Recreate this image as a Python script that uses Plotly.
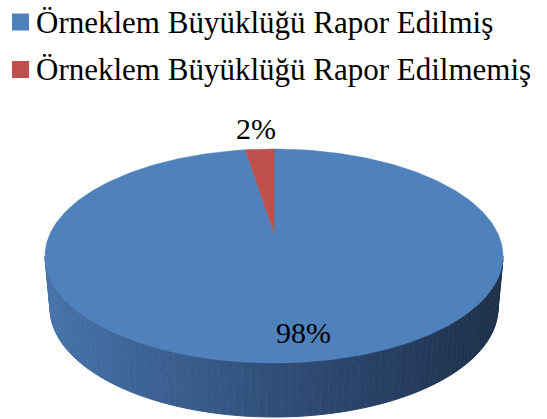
import numpy as np
import plotly.graph_objects as go

categories = ["Örneklem Büyüklüğü Rapor Edilmiş", "Örneklem Büyüklüğü Rapor Edilmemiş"]
values = [98, 2]
labels = ["98%", "2%"]
colors = ["#4F81BD", "#C0504D"]

W, H = 547, 419
# geometry of the 3-D pie (pixels)
CX, CY, RX, RY = 274, 256, 229, 107       # top ellipse
APEX_Y = 233                               # projected centre of the pie
CYB, RXB, RYB = 308, 224, 109              # bottom ellipse
SIDE_L = np.array([0x47, 0x73, 0xAA])
SIDE_M = np.array([0x31, 0x4F, 0x7A])
SIDE_R = np.array([0x1E, 0x30, 0x4A])
FONT = "Liberation Serif"
# legend layout (pixels)
LEG_SQ_X, LEG_TXT_X, LEG_Y0, LEG_DY, LEG_SQ = 20.5, 34, 22, 47.5, 17


def top_pt(th):
    return CX + RX * np.sin(th), CY - RY * np.cos(th)


def bot_pt(th):
    return CX + RXB * np.sin(th), CYB - RYB * np.cos(th)


fig = go.Figure()

# side wall (front half, 90..270 deg clockwise from 12 o'clock)
N = 90
edges = np.linspace(np.pi / 2, 3 * np.pi / 2, N + 1)
for a0, a1 in zip(edges[:-1], edges[1:]):
    th = np.linspace(a0, a1, 4)
    tx, ty = top_pt(th)
    bx, by = bot_pt(th[::-1])
    xm = float(np.mean(tx))
    t = 1 - (xm - (CX - RX)) / (2 * RX)  # 1 = left, 0 = right
    if t > 0.5:
        c = SIDE_M + (SIDE_L - SIDE_M) * (t - 0.5) * 2
    else:
        c = SIDE_R + (SIDE_M - SIDE_R) * t * 2
    col = "rgb(%d,%d,%d)" % tuple(c.astype(int))
    fig.add_trace(go.Scatter(
        x=np.concatenate([tx, bx]).tolist(), y=np.concatenate([ty, by]).tolist(),
        fill="toself", fillcolor=col, mode="lines",
        line=dict(color=col, width=1), hoverinfo="skip", showlegend=False))

# top face slices
total = float(sum(values))
start = 0.0
mids = []
for v, col in zip(values, colors):
    a0 = start / total * 2 * np.pi
    a1 = (start + v) / total * 2 * np.pi
    th = np.linspace(a0, a1, max(4, int(v * 4)))
    ex, ey = top_pt(th)
    xs = np.concatenate([[CX], ex, [CX]])
    ys = np.concatenate([[APEX_Y], ey, [APEX_Y]])
    fig.add_trace(go.Scatter(
        x=xs.tolist(), y=ys.tolist(), fill="toself", fillcolor=col, mode="lines",
        line=dict(color=col, width=0.5), hoverinfo="skip", showlegend=False))
    mids.append((a0 + a1) / 2)
    start += v

# legend (drawn manually: square swatches + serif text)
leg_y = [LEG_Y0 + i * LEG_DY for i in range(len(categories))]
fig.add_trace(go.Scatter(
    x=[LEG_SQ_X] * len(categories), y=leg_y, mode="markers",
    marker=dict(symbol="square", size=LEG_SQ, color=colors, line=dict(width=0)),
    hoverinfo="skip", showlegend=False))
for name, y in zip(categories, leg_y):
    fig.add_annotation(x=LEG_TXT_X, y=y, text=name, showarrow=False,
                       xanchor="left", yanchor="middle",
                       font=dict(family=FONT, size=31, color="black"))

# data labels: big slice inside, small slice outside above rim
for lab, v, m in zip(labels, values, mids):
    rx_, ry_ = top_pt(m)
    if v / total > 0.5:
        f = 0.77
        x = float(CX + f * (rx_ - CX))
        y = float(APEX_Y + f * (ry_ - APEX_Y))
        fig.add_annotation(x=x, y=y, text=lab, showarrow=False, xshift=18,
                           font=dict(family=FONT, size=30, color="black"))
    else:
        fig.add_annotation(x=float(rx_), y=float(ry_), text=lab, showarrow=False,
                           xshift=-4, yshift=21,
                           font=dict(family=FONT, size=30, color="black"))

fig.update_layout(
    width=W, height=H, autosize=False,
    margin=dict(l=0, r=0, t=0, b=0),
    paper_bgcolor="white", plot_bgcolor="white",
    xaxis=dict(range=[0, W], visible=False, fixedrange=True),
    yaxis=dict(range=[H, 0], visible=False, fixedrange=True),
    showlegend=False,
)

fig.write_html("out.html", config={"displayModeBar": False},
               post_script="document.body.style.margin='0';")
